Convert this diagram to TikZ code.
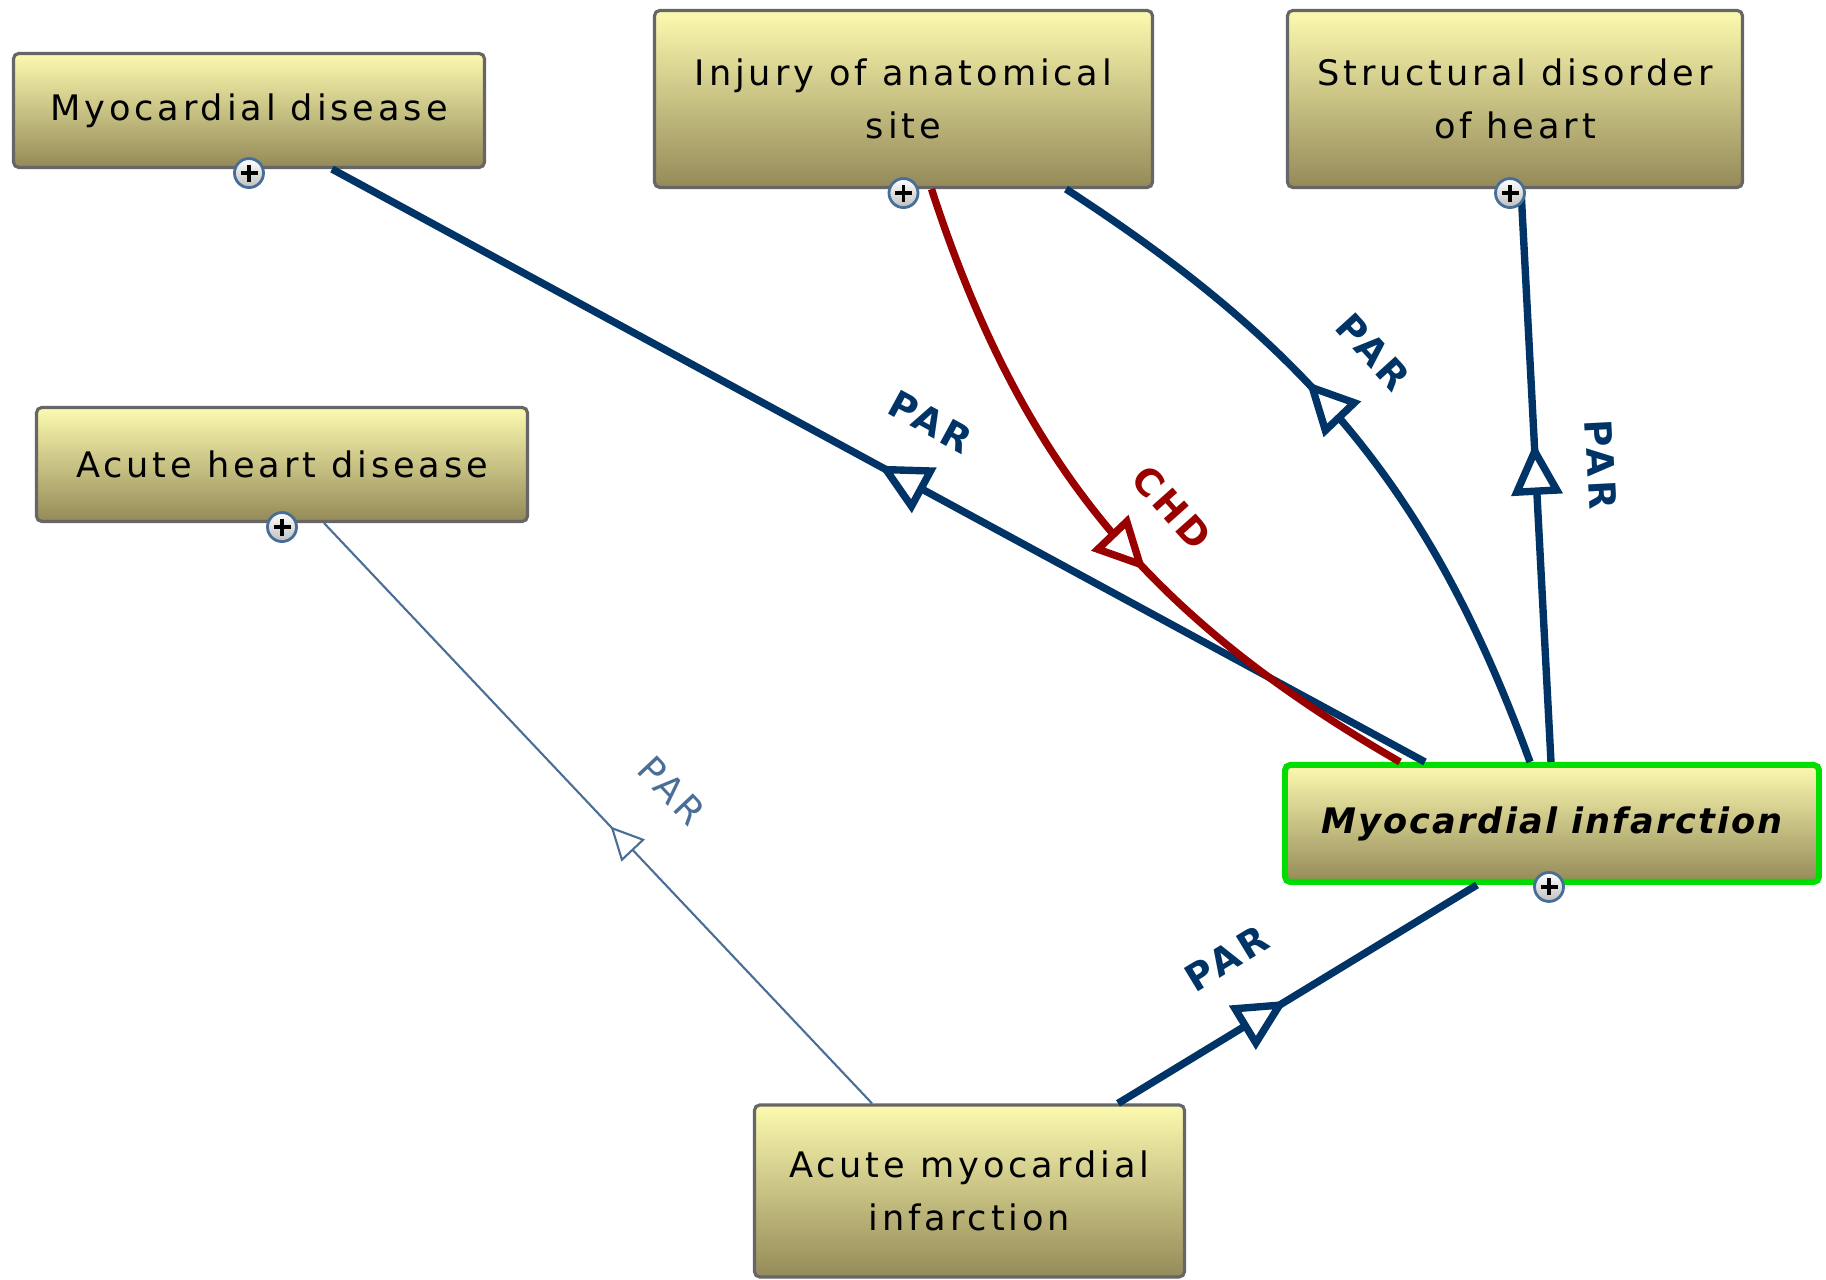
\documentclass[tikz,border=0pt]{standalone}
\usepackage{fontspec}
\usetikzlibrary{arrows.meta,decorations.markings,positioning}
\newfontfamily\textofont[LetterSpace=11]{DejaVu Sans}
\newfontfamily\focofont[LetterSpace=6]{DejaVu Sans}
\newfontfamily\etiquetafont[LetterSpace=10]{DejaVu Sans}
\definecolor{azulpar}{RGB}{0,51,102}
\definecolor{azulfino}{RGB}{74,110,150}
\definecolor{rojochd}{RGB}{153,0,0}
\definecolor{verdefoco}{RGB}{0,221,0}
\definecolor{olivaclaro}{RGB}{252,250,176}
\definecolor{olivaoscuro}{RGB}{148,138,88}
\definecolor{bordegris}{RGB}{102,102,102}
\definecolor{azulmas}{RGB}{70,110,150}
\tikzset{
  concepto/.style={
    rounded corners=1.5pt,
    draw=bordegris,
    line width=0.9pt,
    top color=olivaclaro,
    bottom color=olivaoscuro,
    align=center,
    inner sep=0pt,
    font=\textofont\fontsize{10}{15}\selectfont
  },
  foco/.style={
    concepto,
    draw=verdefoco,
    line width=1.7pt,
    font=\focofont\fontsize{10}{15}\selectfont\bfseries\itshape
  },
  expandir/.style={
    circle,
    draw=azulmas,
    line width=0.8pt,
    top color=white,
    bottom color=black!25,
    minimum size=0.29cm,
    inner sep=0pt,
    path picture={
      \draw[black,line width=0.9pt]
        ([xshift=-0.085cm]path picture bounding box.center) -- ++(0.17,0)
        ([yshift=-0.085cm]path picture bounding box.center) -- ++(0,0.17);
    }
  },
  enlace/.style={draw=azulpar, line width=2.1pt},
  enlacerojo/.style={draw=rojochd, line width=2.1pt},
  enlacefino/.style={draw=azulfino, line width=0.6pt},
  punta/.style={
    postaction={decorate, decoration={markings,
      mark=at position #1 with {\arrow{Triangle[fill=white,length=5.2mm,width=5mm]}}}}
  },
  puntafina/.style={
    postaction={decorate, decoration={markings,
      mark=at position #1 with {\arrow{Triangle[fill=white,length=3.3mm,width=3.2mm]}}}}
  },
  etiqueta/.style={
    sloped,
    inner sep=0pt,
    font=\etiquetafont\fontsize{10.6}{12}\selectfont\bfseries
  },
  etiquetafina/.style={
    sloped,
    inner sep=0pt,
    font=\etiquetafont\fontsize{10.4}{12}\selectfont
  }
}

\begin{document}
\begin{tikzpicture}
\useasboundingbox (0,0) rectangle (18.26,12.80);
% conceptos
\node[concepto,minimum width=4.71cm,minimum height=1.14cm] (myo) at (2.49,11.695) {Myocardial disease};
\node[concepto,minimum width=4.98cm,minimum height=1.77cm] (inj) at (9.035,11.81) {Injury of anatomical\\site};
\node[concepto,minimum width=4.55cm,minimum height=1.77cm] (str) at (15.15,11.81) {Structural disorder\\of heart};
\node[concepto,minimum width=4.91cm,minimum height=1.14cm] (acu) at (2.82,8.155) {Acute heart disease};
\node[foco,minimum width=5.34cm,minimum height=1.17cm] (mi) at (15.52,4.565) {Myocardial infarction};
\node[concepto,minimum width=4.30cm,minimum height=1.72cm] (ami) at (9.695,0.89) {Acute myocardial\\infarction};

% relaciones
\draw[enlace,punta=0.50] ([xshift=-1.27cm]mi.north) -- node[etiqueta,pos=0.48,above=0.46cm,text=azulpar]{PAR} ([xshift=0.83cm]myo.south);
\draw[enlacerojo,punta=0.58] ([xshift=0.28cm]inj.south) to[out=-72,in=150] node[etiqueta,pos=0.545,above=0.44cm,text=rojochd]{CHD} ([xshift=-1.52cm]mi.north);
\draw[enlace,punta=0.59] ([xshift=-0.22cm]mi.north) to[out=110,in=-33] node[etiqueta,pos=0.565,above=0.52cm,text=azulpar]{PAR} ([xshift=1.625cm]inj.south);
\draw[enlace,punta=0.557] ([xshift=-0.01cm]mi.north) -- node[etiqueta,pos=0.513,above=0.48cm,text=azulpar]{PAR} ([xshift=0.06cm]str.south);
\draw[enlacefino,puntafina=0.477] ([xshift=-0.975cm]ami.north) -- node[etiquetafina,pos=0.457,above=0.55cm,text=azulfino]{PAR} ([xshift=0.42cm]acu.south);
\draw[enlace,punta=0.47] ([xshift=1.485cm]ami.north) -- node[etiqueta,pos=0.40,above=0.50cm,text=azulpar]{PAR} ([xshift=-0.75cm]mi.south);

% botones
\node[expandir] (myo-mas) at ([yshift=-0.04cm]myo.south) {};
\node[expandir] (inj-mas) at ([yshift=-0.04cm]inj.south) {};
\node[expandir] (str-mas) at ([xshift=-0.05cm,yshift=-0.04cm]str.south) {};
\node[expandir] (acu-mas) at ([yshift=-0.04cm]acu.south) {};
\node[expandir] (mi-mas) at ([xshift=-0.03cm,yshift=-0.02cm]mi.south) {};
\end{tikzpicture}
\end{document}
